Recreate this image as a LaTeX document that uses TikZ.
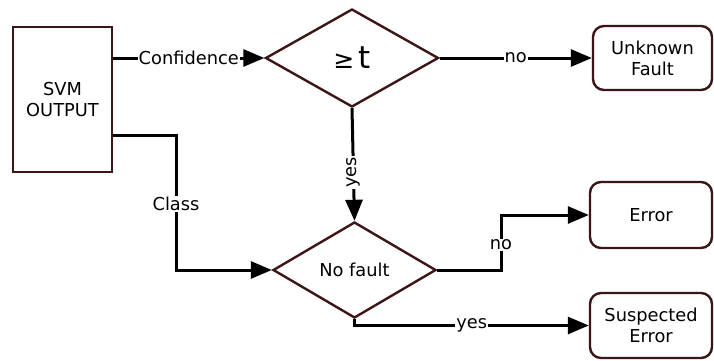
\documentclass[tikz,border=0pt]{standalone}
\usepackage{fontspec}
\setmainfont{DejaVu Sans}
\usetikzlibrary{shapes.geometric,arrows.meta}
\definecolor{edgebrown}{RGB}{60,22,22}
\begin{document}
\begin{tikzpicture}[x=1pt,y=-1pt,
  every node/.style={font=\fontsize{17.8}{21}\selectfont},
  sharpbox/.style={draw=edgebrown,line width=2.4pt,rectangle,minimum width=99pt,minimum height=145pt,align=center,inner sep=0pt},
  roundbox/.style={draw=edgebrown,line width=2.4pt,rectangle,rounded corners=11pt,minimum width=121pt,minimum height=65pt,align=center,inner sep=0pt},
  decision/.style={draw=edgebrown,line width=2.4pt,diamond,inner sep=0pt},
  flow/.style={draw=black,line width=3pt,-{Triangle[length=21pt,width=17pt]}},
  lbl/.style={fill=white,inner sep=1pt}
]
\useasboundingbox[fill=white] (0,0) rectangle (714,360);

% boxes
\node[sharpbox] (svm) at (62.5,99.5) {SVM\\OUTPUT};
\node[roundbox,minimum width=119pt,minimum height=64pt] (uf) at (652.5,58) {Unknown\\Fault};
\node[roundbox,minimum width=122pt,minimum height=66pt] (err) at (651,215) {Error};
\node[roundbox,minimum width=122pt,minimum height=65pt] (sus) at (651,325.5) {Suspected\\Error};

% decisions
\node[decision,minimum width=173pt,minimum height=98pt] (d1) at (352,58)
  {{\fontsize{25}{25}\selectfont ≥}\kern4pt{\fontsize{31}{31}\selectfont t}};
\node[decision,minimum width=163pt,minimum height=96pt] (d2) at (354.5,270) {No fault};

% routing points
\coordinate (classbend) at (176,135);
\coordinate (nobend) at (501,270);

% connectors
\draw[flow] (svm.east |- d1.west) -- node[lbl]{Confidence} (d1.west);
\draw[flow] (d1.east) -- node[lbl]{no} (uf.west);
\draw[flow] (d1.south) -- node[lbl,pos=0.57,rotate=90]{yes} (d2.north);
\draw[flow] (svm.east |- classbend) -- (classbend) |- (d2.west);
\node[lbl] at (176,204) {Class};
\draw[flow] (d2.east) -- (nobend) |- node[lbl,pos=0.23]{no} (err.west);
\draw[flow] (d2.south) |- node[lbl,pos=0.75]{yes} (sus.west);
\end{tikzpicture}
\end{document}
